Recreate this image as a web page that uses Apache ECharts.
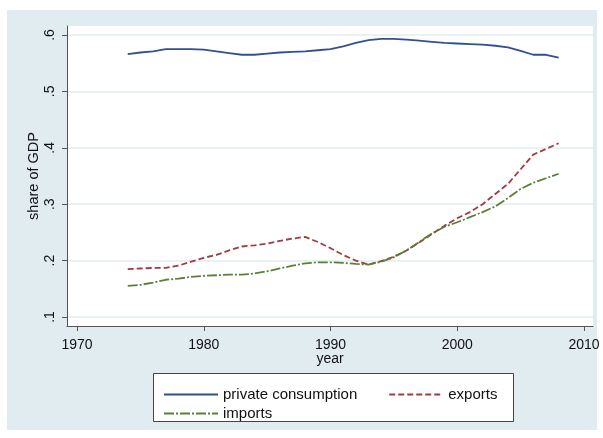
<!DOCTYPE html>
<html>
<head>
<meta charset="utf-8">
<script src="https://cdn.jsdelivr.net/npm/echarts@6/dist/echarts.min.js"></script>
<style>
  html, body { margin: 0; padding: 0; background: #fff; }
  #chart { width: 603px; height: 438px; }
</style>
</head>
<body>
<div id="chart"></div>
<script>
var years = [];
for (var y = 1974; y <= 2008; y++) years.push(y);

var privateConsumption = [0.566, 0.569, 0.571, 0.575, 0.575, 0.575, 0.574, 0.571, 0.568, 0.565,
	0.565, 0.567, 0.569, 0.570, 0.571, 0.573, 0.575, 0.580, 0.586, 0.591,
	0.593, 0.593, 0.592, 0.590, 0.588, 0.586, 0.585, 0.584, 0.583, 0.581,
	0.578, 0.572, 0.565, 0.565, 0.560];
var exportsShare = [0.185, 0.186, 0.187, 0.187, 0.191, 0.198, 0.205, 0.210, 0.218, 0.225,
	0.227, 0.230, 0.235, 0.239, 0.242, 0.233, 0.222, 0.210, 0.200, 0.193,
	0.199, 0.207, 0.218, 0.232, 0.247, 0.262, 0.275, 0.286, 0.300, 0.318,
	0.336, 0.362, 0.388, 0.398, 0.408];
var importsShare = [0.155, 0.157, 0.161, 0.166, 0.168, 0.171, 0.173, 0.174, 0.175, 0.175,
	0.177, 0.181, 0.186, 0.191, 0.195, 0.197, 0.197, 0.196, 0.194, 0.193,
	0.198, 0.206, 0.218, 0.233, 0.248, 0.260, 0.268, 0.277, 0.286, 0.296,
	0.311, 0.327, 0.338, 0.346, 0.354];

var xTicks = [1970, 1980, 1990, 2000, 2010];
var yTicks = [0.1, 0.2, 0.3, 0.4, 0.5, 0.6];

function pairs(vals) {
	return vals.map(function(v, i) { return [years[i], v]; });
}

var font = 'Liberation Sans, Arial, sans-serif';
var legendText = { fontFamily: font, fontSize: 15, color: '#111' };
var myChart = echarts.init(document.getElementById('chart'));
option = {
	backgroundColor: '#fff',
	animation: false,
	graphic: [
		{
			type: 'rect', z: -100,
			shape: { x: 7, y: 10, width: 590, height: 420 },
			style: { fill: '#e1ecf0' }
		},
		{
			type: 'rect', z: 1,
			shape: { x: 153.5, y: 373.5, width: 360, height: 48 },
			style: { fill: '#fff', stroke: '#444', lineWidth: 1 }
		}
	],
	grid: {
		left: 67,
		right: 10,
		top: 26,
		bottom: 112,
		show: true,
		backgroundColor: '#fff',
		borderWidth: 0
	},
	legend: [
		{
			left: 158, top: 382,
			itemWidth: 54, itemHeight: 14, itemGap: 31,
			itemStyle: { color: 'transparent', borderWidth: 0 },
			textStyle: legendText,
			data: ['private consumption', 'exports']
		},
		{
			left: 158, top: 401,
			itemWidth: 54, itemHeight: 14,
			itemStyle: { color: 'transparent', borderWidth: 0 },
			textStyle: legendText,
			data: ['imports']
		}
	],
	xAxis: {
		type: 'value',
		min: 1969.21,
		max: 2010.71,
		name: 'year',
		nameLocation: 'middle',
		nameGap: 26,
		nameMoveOverlap: false,
		nameTextStyle: { fontFamily: font, fontSize: 14, color: '#111' },
		axisLine: { show: true, onZero: false, lineStyle: { color: '#555', width: 1 } },
		axisTick: { show: true, length: 5, customValues: xTicks, lineStyle: { color: '#555' } },
		axisLabel: {
			customValues: xTicks, margin: 12, fontFamily: font, fontSize: 14, color: '#111',
			formatter: function(v) { return String(v); }
		},
		splitLine: { show: false }
	},
	yAxis: {
		type: 'value',
		min: 0.084,
		max: 0.616,
		name: 'share of GDP',
		nameLocation: 'middle',
		nameGap: 26,
		nameMoveOverlap: false,
		nameRotate: 90,
		nameTextStyle: { fontFamily: font, fontSize: 14.5, color: '#111' },
		axisLine: { show: true, onZero: false, lineStyle: { color: '#555', width: 1 } },
		axisTick: { show: true, length: 5, customValues: yTicks, lineStyle: { color: '#555' } },
		axisLabel: {
			customValues: yTicks, rotate: 90, margin: 10,
			fontFamily: font, fontSize: 14, color: '#111',
			formatter: function(v) { return v.toFixed(1).replace(/^0/, ''); }
		},
		splitLine: { show: true, lineStyle: { color: '#e3edf0', width: 1.5 } }
	},
	series: [
		{
			name: 'private consumption',
			type: 'line',
			symbol: 'none',
			lineStyle: { color: '#2e5290', width: 1.8 },
			itemStyle: { color: '#2e5290' },
			data: pairs(privateConsumption)
		},
		{
			name: 'exports',
			type: 'line',
			symbol: 'none',
			lineStyle: { color: '#a33a42', width: 1.8, type: [6, 3] },
			itemStyle: { color: '#a33a42' },
			data: pairs(exportsShare)
		},
		{
			name: 'imports',
			type: 'line',
			symbol: 'none',
			lineStyle: { color: '#5b8035', width: 1.8, type: [10, 2, 2, 2] },
			itemStyle: { color: '#5b8035' },
			data: pairs(importsShare)
		}
	]
};
myChart.setOption(option);
</script>
</body>
</html>
